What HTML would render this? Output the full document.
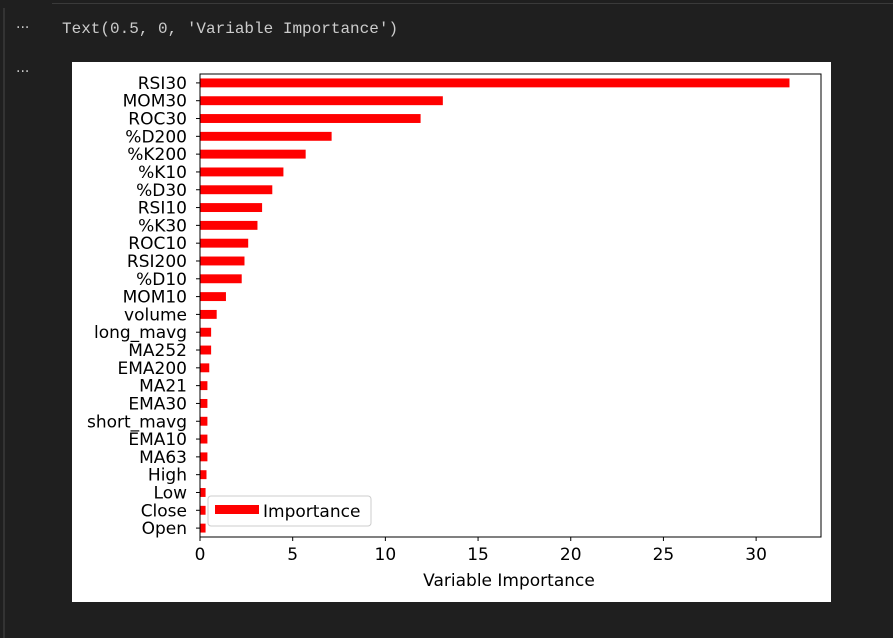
<!DOCTYPE html>
<html><head><meta charset="utf-8"><style>
body{margin:0;width:893px;height:638px;background:#1f1f1f;font-family:"DejaVu Sans","Liberation Sans",sans-serif;overflow:hidden;position:relative}
.out{position:absolute;color:#ccc;font-family:"Liberation Mono",monospace;font-size:16px}
.dots{position:absolute;color:#ccc;font-size:14px;left:16px}
</style></head><body>
<div style="position:absolute;left:52px;top:0;width:841px;height:3px;border-bottom:1px solid #3a3a3a"></div>
<div style="position:absolute;left:3px;top:8px;width:2px;height:630px;background:#333"></div>
<div class="dots" style="top:20px">···</div>
<div class="out" style="left:62px;top:20px">Text(0.5, 0, 'Variable Importance')</div>
<div class="dots" style="top:64px">···</div>
<svg style="position:absolute;left:72px;top:62px" width="759" height="540" id="svg"></svg>
<script>
const categories=["RSI30","MOM30","ROC30","%D200","%K200","%K10","%D30","RSI10","%K30","ROC10","RSI200","%D10","MOM10","volume","long_mavg","MA252","EMA200","MA21","EMA30","short_mavg","EMA10","MA63","High","Low","Close","Open"];
const values=[31.8,13.1,11.9,7.1,5.7,4.5,3.9,3.35,3.1,2.6,2.4,2.25,1.4,0.9,0.6,0.6,0.5,0.4,0.4,0.4,0.4,0.4,0.35,0.3,0.3,0.3];
const xTicks=[0,5,10,15,20,25,30];
const svg=document.getElementById('svg');const NS="http://www.w3.org/2000/svg";
const ox=72,oy=62;const L=200-ox,R=821-ox,T=74-oy,B=537-oy;const xmax=33.5;
const X=v=>L+v/xmax*(R-L);const step=(B-T)/categories.length;const Y=i=>T+(i+0.5)*step;
function mk(t,a){const e=document.createElementNS(NS,t);for(const k in a)e.setAttribute(k,a[k]);svg.appendChild(e);return e;}
mk('rect',{x:0,y:0,width:759,height:540,fill:'#fff'});
categories.forEach((c,i)=>{
 const r=mk('rect',{x:X(0),y:Y(i)-step*0.25,width:X(values[i])-X(0),height:step*0.5,fill:'#ff0000'});
 
 
 mk('line',{x1:L-4,x2:L,y1:Y(i),y2:Y(i),stroke:'#000','stroke-width':1});
 const t=mk('text',{x:L-13,y:Y(i)+6,'text-anchor':'end','font-size':17,fill:'#000'});t.textContent=c;
 
 
});
xTicks.forEach(v=>{
 mk('line',{x1:X(v),x2:X(v),y1:B,y2:B+4,stroke:'#000','stroke-width':1});
 const t=mk('text',{x:X(v),y:B+23,'text-anchor':'middle','font-size':17,fill:'#000'});t.textContent=v;
 
 
});
const f=mk('rect',{x:L,y:T,width:R-L,height:B-T,fill:'none',stroke:'#000','stroke-width':1});

const xt=mk('text',{x:509-ox,y:B+49,'text-anchor':'middle','font-size':17,fill:'#000'});xt.textContent='Variable Importance';


const lg=mk('rect',{x:208-ox,y:496-oy,width:163,height:30,rx:3,fill:'#fff',stroke:'#ccc'});


mk('rect',{x:215-ox,y:505-oy,width:44,height:9,fill:'#ff0000'});
const lt=mk('text',{x:263-ox,y:517-oy,'font-size':17,fill:'#000'});lt.textContent='Importance';


</script>
</body></html>
